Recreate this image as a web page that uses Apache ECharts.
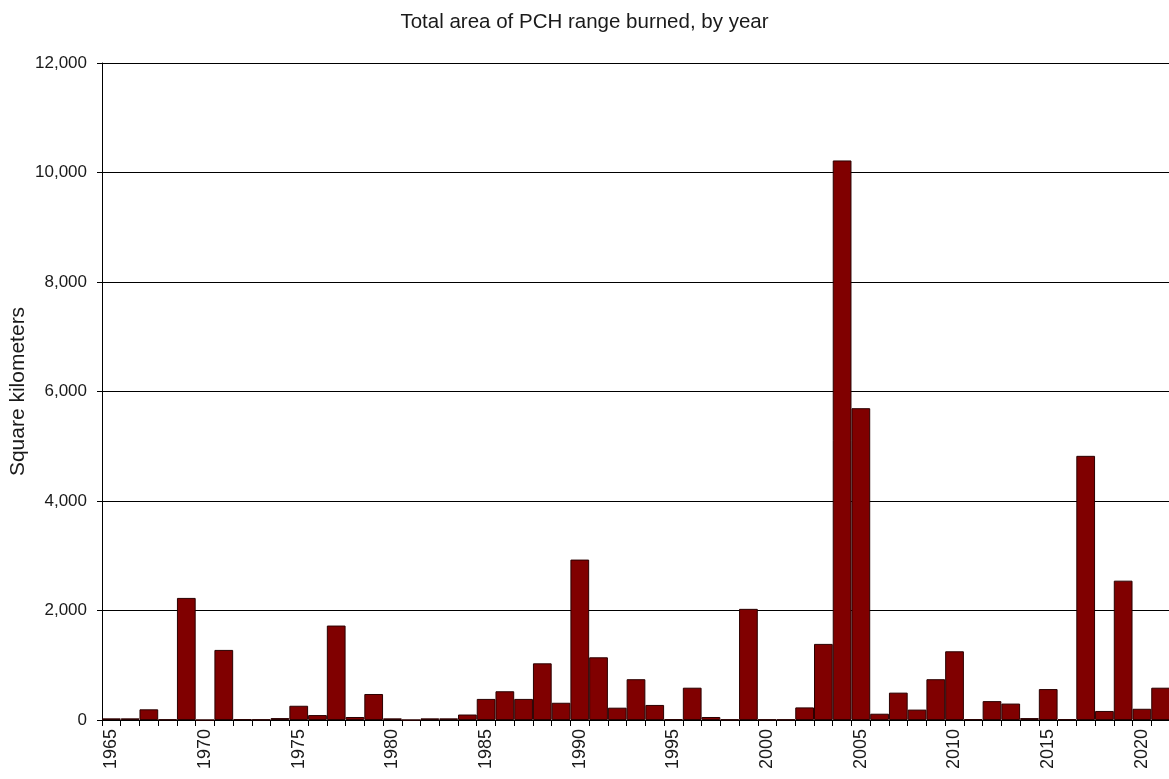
<!DOCTYPE html>
<html>
<head>
<meta charset="utf-8">
<script src="https://cdn.jsdelivr.net/npm/echarts@6/dist/echarts.min.js"></script>
<style>
html,body{margin:0;padding:0;background:#fff;}
#chart{width:1169px;height:779px;}
</style>
</head>
<body>
<div id="chart"></div>
<script>
const years = ['1965','1966','1967','1968','1969','1970','1971','1972','1973','1974',
  '1975','1976','1977','1978','1979','1980','1981','1982','1983','1984',
  '1985','1986','1987','1988','1989','1990','1991','1992','1993','1994',
  '1995','1996','1997','1998','1999','2000','2001','2002','2003','2004',
  '2005','2006','2007','2008','2009','2010','2011','2012','2013','2014',
  '2015','2016','2017','2018','2019','2020','2021'];
const areaBurned = [30,30,195,10,2230,0,1280,15,10,35,
  260,90,1725,55,475,30,0,30,30,100,
  385,525,385,1035,315,2930,1145,225,745,275,
  15,590,55,10,2030,10,10,230,1390,10220,
  5695,115,500,190,745,1255,15,345,300,35,
  565,15,4825,165,2545,205,590];
const titleText = 'Total area of PCH range burned, by year';
const yAxisName = 'Square kilometers';

const FONT = '"Liberation Sans", Arial, sans-serif';
const chart = echarts.init(document.getElementById('chart'), null, {renderer:'canvas'});
chart.setOption({
  animation:false,
  backgroundColor:'#ffffff',
  title:{
    text:titleText, left:'center', top:7,
    textStyle:{fontFamily:FONT, fontSize:20.5, fontWeight:'normal', color:'#1a1a1a'}
  },
  grid:{left:102, top:63, bottom:59, width:1068, containLabel:false, outerBoundsMode:'none'},
  xAxis:{
    type:'category', data:years, boundaryGap:true,
    axisLine:{show:true, lineStyle:{color:'#000', width:1}},
    axisTick:{show:true, interval:0, length:6, lineStyle:{color:'#000'}},
    axisLabel:{
      rotate:90, margin:9, color:'#1a1a1a', fontFamily:FONT, fontSize:18,
      interval:function(idx, val){ return Number(val) % 5 === 0; }
    },
    splitLine:{show:false}
  },
  yAxis:{
    type:'value', min:0, max:12000, interval:2000,
    name:yAxisName, nameLocation:'middle', nameGap:73, nameMoveOverlap:false,
    nameTextStyle:{fontFamily:FONT, fontSize:21, color:'#1a1a1a'},
    axisLine:{show:true, lineStyle:{color:'#000', width:1}},
    axisTick:{show:true, length:5, lineStyle:{color:'#000'}},
    axisLabel:{
      margin:15, color:'#1a1a1a', fontFamily:FONT, fontSize:17,
      formatter:function(v){ return v.toLocaleString('en-US'); }
    },
    splitLine:{show:true, lineStyle:{color:'#000', width:1}}
  },
  series:[{
    type:'bar', data:areaBurned, barCategoryGap:'0%',
    itemStyle:{color:'#800000', borderColor:'#2a0000', borderWidth:1}
  }]
});
</script>
</body>
</html>
